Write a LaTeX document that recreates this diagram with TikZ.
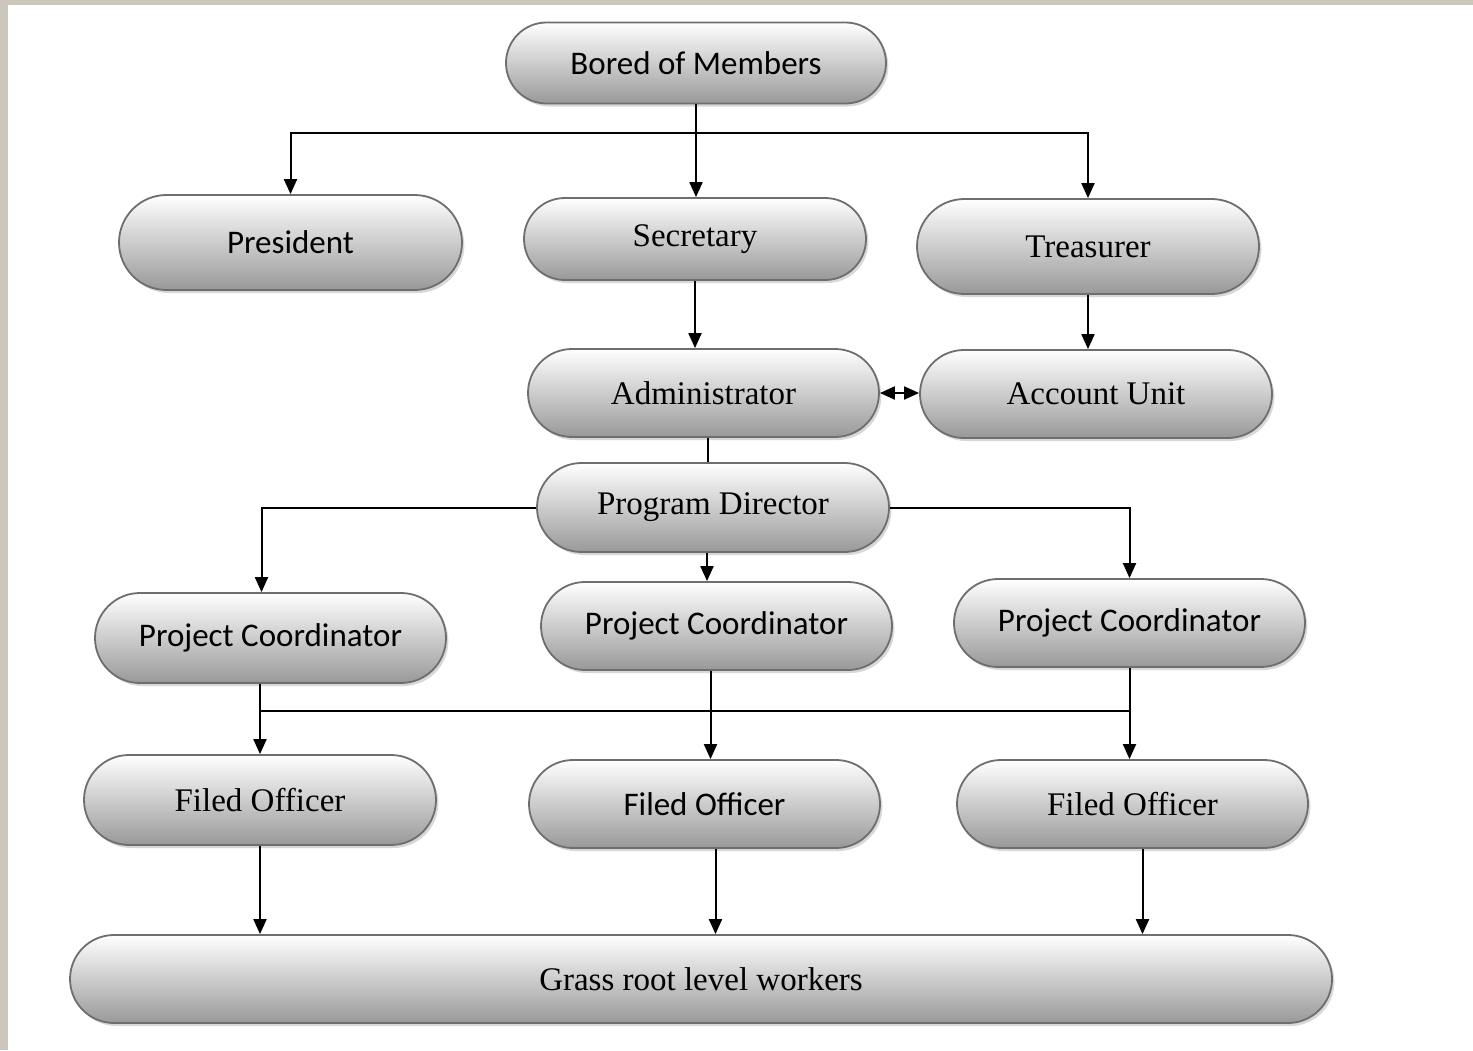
\documentclass[tikz,border=0pt]{standalone}
\usepackage{fontspec}
\setmainfont{Liberation Serif}
\newfontfamily\calibrifont{Carlito}
\usetikzlibrary{shapes.misc, arrows.meta, shadows}
\definecolor{frameGray}{HTML}{CDC6BD}
\definecolor{pillEdge}{HTML}{6E6E6E}

\begin{document}
\begin{tikzpicture}[x=0.5pt, y=-0.5pt,
  pill/.style={rounded rectangle, draw=pillEdge, line width=0.9pt,
    top color=white, bottom color=black!40, inner sep=0pt,
    minimum width=175.5pt, minimum height=44pt,
    font=\fontsize{16.5}{19}\selectfont,
    drop shadow={shadow xshift=1.2pt, shadow yshift=-1.5pt, fill=black!30, opacity=0.5}},
  sanspill/.style={pill, font=\calibrifont\fontsize{16.5}{19}\selectfont},
  link/.style={line width=1pt, black},
  arr/.style={link, -{Triangle[length=7.5pt, width=6.5pt]}}
]
  \useasboundingbox (0,0) rectangle (1473,1050);
  % grey page edge
  \fill[frameGray] (0,0) rectangle (1473,5);
  \fill[frameGray] (0,0) rectangle (8,1050);

  % top level
  \node[sanspill, minimum width=190pt, minimum height=40.5pt] (board) at (696,63) {Bored of Members};
  \node[sanspill, minimum width=171.5pt, minimum height=47.5pt] (pres) at (290.5,242.5) {President};
  \node[pill, minimum width=171pt, minimum height=41pt] (sec) at (695,239) {Secretary};
  \node[pill, minimum width=171pt, minimum height=47.5pt] (treas) at (1088,246.5) {Treasurer};

  % office
  \node[pill] (admin) at (703.5,393) {Administrator};
  \node[pill, minimum width=176pt] (acc) at (1096,394) {Account Unit};
  \node[pill, minimum width=176pt, minimum height=44.5pt] (dir) at (713,507.5) {Program Director};

  % projects
  \node[sanspill, minimum height=45pt] (pcL) at (270.5,638) {Project Coordinator};
  \node[sanspill] (pcM) at (716.5,626) {Project Coordinator};
  \node[sanspill] (pcR) at (1129.5,623) {Project Coordinator};

  \node[pill, minimum width=176pt, minimum height=45pt] (foL) at (260,800) {Filed Officer};
  \node[sanspill] (foM) at (704.5,804) {Filed Officer};
  \node[pill] (foR) at (1132.5,804) {Filed Officer};

  \node[pill, minimum width=631pt] (grass) at (701,979) {Grass root level workers};

  \coordinate (topbus) at (0,133);
  \coordinate (midbus) at (0,711);

  % connectors
  \draw[arr] (board.south) -- (board.south |- topbus) -| (pres.north);
  \draw[arr] (board.south) -- (board.south |- topbus) -| (treas.north);
  \draw[arr] (board.south) -- (board.south |- sec.north);
  \draw[arr] (sec.south) -- (sec.south |- admin.north);
  \draw[arr] (treas.south) -- (treas.south |- acc.north);
  \draw[link, {Triangle[length=7.5pt, width=6.5pt]}-{Triangle[length=7.5pt, width=6.5pt]}] (admin.east) -- (admin.east -| acc.west);
  \draw[link] ([xshift=2pt]admin.south) -- ([xshift=2pt]admin.south |- dir.north);
  \draw[arr] (dir.west) -| ([xshift=-4.5pt]pcL.north);
  \draw[arr] (dir.east) -| (pcR.north);
  \draw[arr] ([xshift=-3pt]dir.south) -- ([xshift=-3pt]dir.south |- pcM.north);
  \draw[arr] (foL.north |- pcL.south) -- (foL.north);
  \draw[link] (foL.north |- midbus) -- (pcR.south |- midbus);
  \draw[arr] ([xshift=-3pt]pcM.south) -- ([xshift=-3pt]pcM.south |- foM.north);
  \draw[arr] (pcR.south) -- (pcR.south |- foR.north);
  \draw[arr] (foL.south) -- (foL.south |- grass.north);
  \draw[arr] ([xshift=5.5pt]foM.south) -- ([xshift=5.5pt]foM.south |- grass.north);
  \draw[arr] ([xshift=5pt]foR.south) -- ([xshift=5pt]foR.south |- grass.north);
\end{tikzpicture}
\end{document}
